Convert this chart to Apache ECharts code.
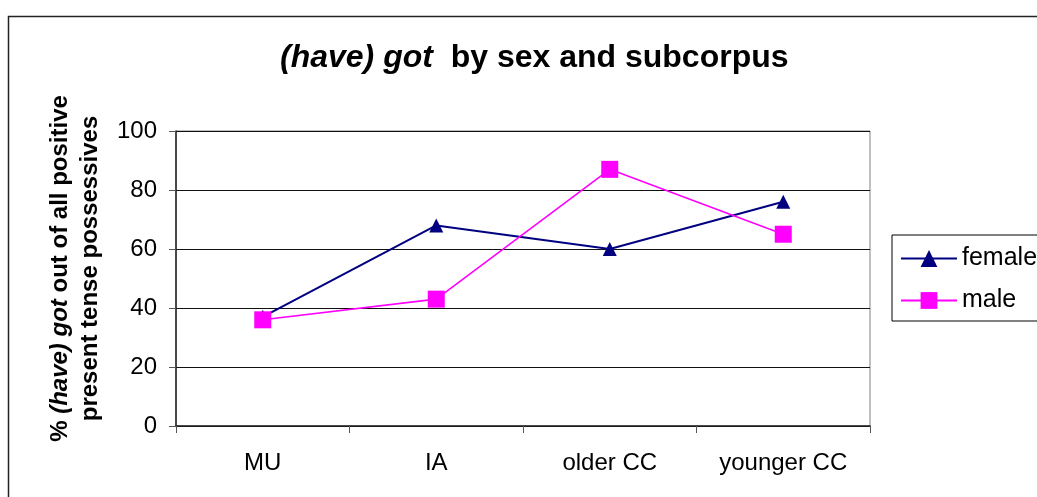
<!DOCTYPE html>
<html>
<head>
<meta charset="utf-8">
<script src="https://cdn.jsdelivr.net/npm/echarts@6/dist/echarts.min.js"></script>
<style>
  html, body { margin: 0; padding: 0; background: #fff; overflow: hidden; }
  #chart { width: 1037px; height: 497px; }
</style>
</head>
<body>
<div id="chart"></div>
<script>
// categories and values
const subcorpora = ["MU", "IA", "older CC", "younger CC"];
const female = [37, 68, 60, 76];
const male = [36, 43, 87, 65];
const yTicks = [0, 20, 40, 60, 80, 100];

const font = "Liberation Sans, Arial, sans-serif";

let myChart = echarts.init(document.getElementById("chart"));
let option = {
    backgroundColor: "#fff",
    animation: false,
    title: {
        text: "{i|(have) got}{n|  by sex and subcorpus}",
        left: 275,
        top: 37,
        textStyle: {
            rich: {
                i: { fontFamily: font, fontSize: 32, fontWeight: "bold", fontStyle: "italic", color: "#000" },
                n: { fontFamily: font, fontSize: 32, fontWeight: "bold", color: "#000" }
            }
        }
    },
    graphic: [{
        // outer chart frame, runs off the right and bottom edges
        type: "rect",
        left: 6, top: 14,
        shape: { width: 1200, height: 700 },
        style: { fill: "none", stroke: "#222", lineWidth: 1.5 },
        silent: true
    }],
    legend: {
        orient: "vertical",
        left: 892,
        top: 235,
        padding: [11, 40, 8, 8],
        itemWidth: 56,
        itemHeight: 21,
        itemGap: 17,
        borderColor: "#000",
        borderWidth: 1,
        textStyle: { fontFamily: font, fontSize: 25, color: "#000", lineHeight: 24 },
        data: ["female", "male"]
    },
    grid: {
        left: 176,
        top: 131,
        width: 694,
        height: 295,
        show: true,
        borderColor: "#808080",
        borderWidth: 1
    },
    xAxis: {
        type: "category",
        data: subcorpora,
        boundaryGap: true,
        axisLine: { lineStyle: { color: "#222", width: 1.5 } },
        axisTick: { show: true, length: 7, inside: false, lineStyle: { color: "#555" } },
        axisLabel: { fontFamily: font, fontSize: 24, color: "#000", margin: 25 }
    },
    yAxis: {
        type: "value",
        min: 0,
        max: 100,
        interval: 20,
        name: "{n|% }{i|(have) got}{n| out of all positive}\n{n|present tense possessives}",
        nameLocation: "middle",
        nameRotate: 90,
        nameGap: 71,
        nameTextStyle: {
            padding: [0, 0, 0, 20],
            rich: {
                n: { fontFamily: font, fontSize: 24, fontWeight: "bold", color: "#000", lineHeight: 30 },
                i: { fontFamily: font, fontSize: 24, fontWeight: "bold", fontStyle: "italic", color: "#000", lineHeight: 30 }
            }
        },
        axisLine: { show: true, lineStyle: { color: "#222", width: 1.5 } },
        axisTick: { show: true, length: 7, inside: false, lineStyle: { color: "#555" } },
        axisLabel: {
            fontFamily: font, fontSize: 24, color: "#000", margin: 19,
            formatter: function (v) { return yTicks.indexOf(v) >= 0 ? String(v) : ""; }
        },
        splitLine: { show: true, lineStyle: { color: "#111", width: 1 } }
    },
    series: [
        {
            name: "female",
            type: "line",
            data: female,
            color: "#000080",
            symbol: "triangle",
            symbolSize: 14,
            lineStyle: { width: 2, color: "#000080" },
            itemStyle: { color: "#000080" },
            z: 3
        },
        {
            name: "male",
            type: "line",
            data: male,
            color: "#FF00FF",
            symbol: "rect",
            symbolSize: 17,
            lineStyle: { width: 1.6, color: "#FF00FF" },
            itemStyle: { color: "#FF00FF" },
            z: 4
        }
    ]
};
myChart.setOption(option);
</script>
</body>
</html>
